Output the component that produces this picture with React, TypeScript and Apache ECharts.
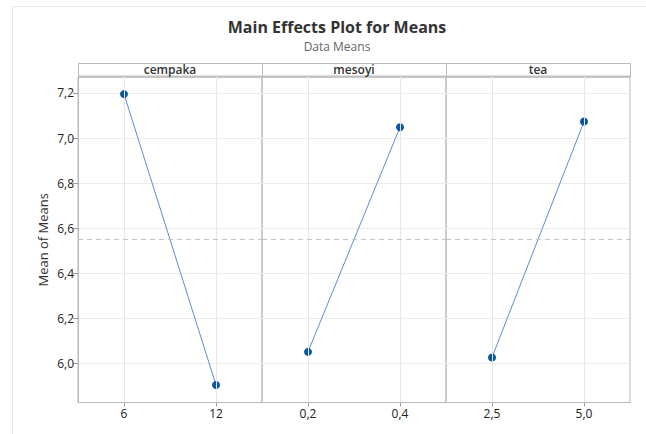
import React, { useEffect, useRef } from 'react';
import * as echarts from 'echarts';

const titleText = 'Main Effects Plot for Means';
const subtitleText = 'Data Means';
const yAxisName = 'Mean of Means';
const factorNames = ['cempaka', 'mesoyi', 'tea'];
const cempakaLevels = ['6', '12'];
const mesoyiLevels = ['0,2', '0,4'];
const teaLevels = ['2,5', '5,0'];
const cempakaMeans = [7.195, 5.903];
const mesoyiMeans = [6.05, 7.048];
const teaMeans = [6.025, 7.073];
const yTickValues = [6.0, 6.2, 6.4, 6.6, 6.8, 7.0, 7.2];
const yMin = 5.825;
const yMax = 7.271;

const FONT = "'Segoe UI', 'Open Sans', sans-serif";

export default function App() {
  const ref = useRef<HTMLDivElement>(null);
  useEffect(() => {
    const chart = echarts.init(ref.current!, null, { renderer: 'svg' });
    const levels = [cempakaLevels, mesoyiLevels, teaLevels];
    const means = [cempakaMeans, mesoyiMeans, teaMeans];
    const all = means.flat();
    const grand = all.reduce((a, b) => a + b, 0) / all.length;
    const left0 = 78;
    const panelW = 184;
    const top = 77;
    const height = 325.5;
    const stripTop = 63.5;
    const border = '#b9b9b9';

    const grids = factorNames.map((_, i) => ({
      left: left0 + panelW * i,
      top,
      width: panelW,
      height,
      show: true,
      borderColor: border,
      borderWidth: 1,
      backgroundColor: 'transparent',
    }));

    const xAxes = factorNames.map((_, i) => ({
      type: 'category',
      gridIndex: i,
      data: levels[i],
      boundaryGap: true,
      axisLine: { show: true, lineStyle: { color: border } },
      axisTick: { show: true, alignWithLabel: true, length: 4, lineStyle: { color: '#9a9a9a' } },
      axisLabel: { color: '#222', fontSize: 12, margin: 5, fontFamily: FONT },
      splitLine: { show: false },
    }));

    const yAxes = factorNames.map((_, i) => ({
      type: 'value',
      gridIndex: i,
      min: yMin,
      max: yMax,
      splitNumber: 7,
      name: i === 0 ? yAxisName : '',
      nameLocation: 'middle',
      nameGap: 29,
      nameTextStyle: { color: '#333', fontSize: 13, fontFamily: FONT },
      axisLine: { show: i === 0, lineStyle: { color: border } },
      axisTick: {
        show: i === 0,
        length: 5,
        lineStyle: { color: '#9a9a9a' },
        customValues: yTickValues,
      },
      axisLabel: {
        show: i === 0,
        color: '#222',
        fontSize: 12,
        margin: 4,
        fontFamily: FONT,
        customValues: yTickValues,
        formatter: (v: number) => {
          const hit = yTickValues.find((t) => Math.abs(t - v) < 1e-6);
          return hit === undefined ? '' : hit.toFixed(1).replace('.', ',');
        },
      },
      splitLine: { show: true, lineStyle: { color: '#ececec', width: 1 } },
    }));

    const series = factorNames.map((name, i) => ({
      type: 'line',
      name,
      xAxisIndex: i,
      yAxisIndex: i,
      data: means[i],
      symbol: 'circle',
      symbolSize: 8,
      itemStyle: { color: '#0b55a6' },
      lineStyle: { color: '#5b8fd0', width: 1 },
      markLine: {
        silent: true,
        symbol: ['none', 'none'],
        label: { show: false },
        animation: false,
        data: [
          { xAxis: levels[i][0], lineStyle: { type: 'solid', color: '#e6e6e6', width: 1 } },
          { xAxis: levels[i][1], lineStyle: { type: 'solid', color: '#e6e6e6', width: 1 } },
          { yAxis: grand, lineStyle: { type: [5, 4], color: '#c4c4c4', width: 1 } },
        ],
      },
      z: 3,
    }));

    const graphics: any[] = [
      {
        type: 'rect',
        shape: { x: 12.5, y: 6.5, width: 700, height: 500 },
        style: { fill: 'none', stroke: '#e8e8e8', lineWidth: 1 },
        silent: true,
      },
      {
        type: 'text',
        x: 337,
        y: 27,
        style: {
          text: titleText,
          fontSize: 16,
          fontWeight: 'bold',
          fontFamily: FONT,
          fill: '#333',
          align: 'center',
          verticalAlign: 'middle',
        },
      },
      {
        type: 'text',
        x: 337,
        y: 46,
        style: {
          text: subtitleText,
          fontSize: 12,
          fontFamily: FONT,
          fill: '#666',
          align: 'center',
          verticalAlign: 'middle',
        },
      },
    ];
    factorNames.forEach((_, i) => {
      const x = left0 + panelW * i;
      graphics.push({
        type: 'rect',
        shape: { x: x + 0.5, y: stripTop, width: panelW, height: top - stripTop },
        style: { fill: '#fff', stroke: border, lineWidth: 1 },
        silent: true,
      });
    });
    graphics.push({
      type: 'line',
      shape: { x1: left0, y1: top - 0.5, x2: left0 + panelW * 3, y2: top - 0.5 },
      style: { stroke: '#c2c2c2', lineWidth: 2 },
      silent: true,
    });
    factorNames.forEach((name, i) => {
      const x = left0 + panelW * i;
      graphics.push({
        type: 'text',
        x: x + panelW / 2,
        y: (stripTop + top) / 2 - 1,
        style: {
          text: name,
          fontSize: 12,
          fontWeight: 600,
          fontFamily: FONT,
          fill: '#333',
          align: 'center',
          verticalAlign: 'middle',
        },
      });
    });

    chart.setOption({
      animation: false,
      backgroundColor: '#fff',
      grid: grids,
      xAxis: xAxes,
      yAxis: yAxes,
      series,
      graphic: graphics,
    } as any);
    return () => chart.dispose();
  }, []);
  return (
    <div
      ref={ref}
      style={{ position: 'fixed', left: 0, top: 0, width: 646, height: 434, background: '#fff' }}
    />
  );
}
